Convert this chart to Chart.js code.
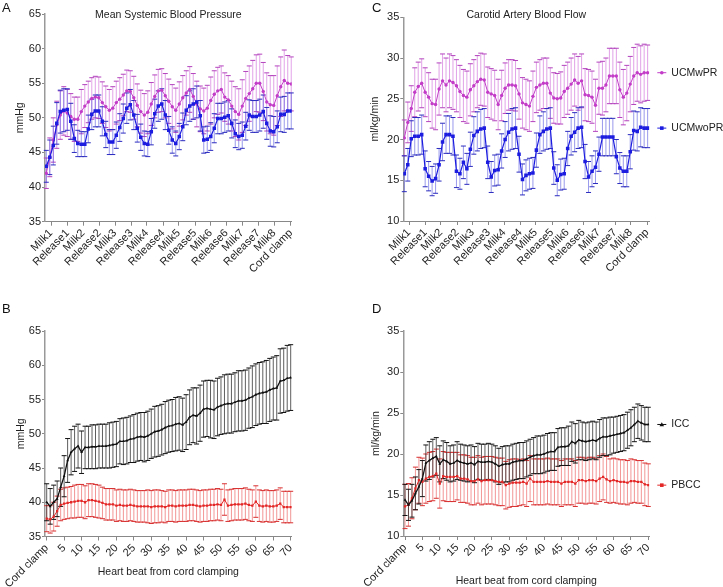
<!DOCTYPE html>
<html>
<head>
<meta charset="utf-8">
<script src="https://cdn.jsdelivr.net/npm/chart.js@4.4.1/dist/chart.umd.min.js"></script>
<style>
  body { margin: 0; background: #fff; }
  #wrap { position: relative; width: 723px; height: 587px; font-family: "Liberation Sans", Arial, sans-serif; }
  #wrap canvas { position: absolute; }
  .tag { position: absolute; font-size: 13px; line-height: 13px; color: #111; }
</style>
</head>
<body>
<div id="wrap">
  <canvas id="chartA" width="360" height="300" style="left:0;top:0"></canvas>
  <canvas id="chartC" width="363" height="300" style="left:360px;top:0"></canvas>
  <canvas id="chartB" width="360" height="287" style="left:0;top:300px"></canvas>
  <canvas id="chartD" width="363" height="287" style="left:360px;top:300px"></canvas>
  <div class="tag" style="left:2px;top:1px">A</div>
  <div class="tag" style="left:372px;top:1px">C</div>
  <div class="tag" style="left:2px;top:302px">B</div>
  <div class="tag" style="left:372px;top:302px">D</div>
</div>
<script>
// x positions: one sample per heart beat / recording step
var beatIndex = [0,1,2,3,4,5,6,7,8,9,10,11,12,13,14,15,16,17,18,19,20,21,22,23,24,25,26,27,28,29,30,
  31,32,33,34,35,36,37,38,39,40,41,42,43,44,45,46,47,48,49,50,51,52,53,54,55,56,57,58,59,60,
  61,62,63,64,65,66,67,68,69,70];

var phaseLabels = ["Milk1","Release1","Milk2","Release2","Milk3","Release3","Milk4","Release4",
  "Milk5","Release5","Milk6","Release6","Milk7","Release7","Milk8","Cord clamp"];
var phaseTickPos = [1.35,6.1,10.55,15.2,19.65,24.3,28.75,33.4,37.8,42.5,46.95,51.5,55.95,60.65,65.1,69.9];

var beatLabels = ["Cord clamp","5","10","15","20","25","30","35","40","45","50","55","60","65","70"];
var beatTickPos = [0,5,10,15,20,25,30,35,40,45,50,55,60,65,70];

// A: mean systemic blood pressure (mmHg)
var mbpUCMwPR = [42.0,44.3,46.8,49.0,50.4,51.0,50.7,50.2,49.8,49.8,
  50.9,51.7,52.3,52.8,53.0,52.9,52.2,51.6,51.1,51.4,
  52.2,52.7,53.3,53.9,53.8,52.9,51.8,50.9,50.4,50.8,
  52.0,53.1,53.9,54.0,53.2,52.4,51.6,51.1,52.0,52.9,
  53.6,54.1,53.1,52.0,51.3,51.0,51.4,52.5,53.4,53.9,
  54.1,53.0,52.6,51.7,50.9,50.5,51.7,52.8,53.5,54.2,
  55.0,55.0,53.8,52.3,51.9,51.8,53.2,54.5,55.4,55.0,54.9];
var mbpUCMwPRsd = [2.2,2.8,3.2,3.4,3.5,3.5,3.4,3.3,3.2,3.2,
  3.2,3.1,3.0,3.0,3.0,3.0,3.0,3.0,3.0,3.1,
  3.1,3.1,3.0,3.0,3.0,3.1,3.1,3.1,3.1,3.1,
  3.1,3.1,3.1,3.1,3.2,3.2,3.2,3.2,3.2,3.2,
  3.2,3.3,3.3,3.3,3.3,3.3,3.3,3.4,3.4,3.4,
  3.4,3.5,3.5,3.6,3.6,3.7,3.8,3.9,4.0,4.1,
  4.1,4.2,4.2,4.2,4.2,4.3,4.3,4.3,4.4,4.0,3.9];
var mbpUCMwoPR = [43.0,44.3,46.0,49.2,50.9,51.1,51.2,49.5,47.0,46.3,
  46.2,46.2,48.4,50.5,51.0,51.0,49.5,47.6,46.5,46.5,
  47.5,48.6,49.9,51.4,51.9,50.4,48.5,47.2,46.3,46.2,
  48.0,50.6,51.7,52.0,50.4,48.2,46.8,46.3,47.3,48.7,
  51.1,51.7,52.0,52.3,50.3,46.8,46.9,47.3,48.5,49.9,
  49.9,50.1,50.3,49.2,47.7,47.3,47.5,48.8,50.4,50.2,
  50.2,50.4,50.9,49.2,48.1,48.0,48.7,50.5,50.5,51.0,51.0];
var mbpUCMwoPRsd = [2.3,2.5,2.8,3.0,3.1,3.1,3.0,2.6,2.0,1.9,
  1.8,1.8,2.0,2.2,2.3,2.3,2.1,1.9,1.8,1.8,
  1.9,2.0,2.1,2.2,2.2,2.1,2.0,1.9,1.8,1.8,
  1.9,2.1,2.2,2.2,2.1,2.0,1.9,1.8,1.9,2.0,
  2.1,2.2,2.2,2.3,2.2,1.9,1.9,2.0,2.1,2.2,
  2.2,2.2,2.2,2.1,2.0,1.9,1.9,2.0,2.2,2.3,
  2.3,2.3,2.4,2.3,2.2,2.2,2.3,2.5,2.6,2.6,2.6];

// C: carotid artery blood flow (ml/kg/min)
var cbfUCMwPR = [20.2,22.1,23.8,25.8,26.5,26.9,25.8,25.2,24.4,24.3,
  26.2,27.2,26.7,27.2,27.0,26.6,25.9,25.4,25.2,26.1,
  26.6,27.1,27.4,27.3,25.8,25.6,25.4,24.3,25.4,26.3,
  26.7,26.7,26.6,25.6,24.5,24.3,24.1,25.3,26.4,26.7,
  26.9,26.9,25.7,25.1,25.0,25.1,25.9,26.3,26.8,27.3,
  26.9,27.2,25.5,25.4,25.2,24.2,26.3,26.3,26.7,27.8,
  27.8,27.8,26.1,25.2,25.7,26.8,27.8,28.2,28.0,28.2,28.2];
var cbfUCMwPRsd = [2.2,2.5,2.8,3.0,3.0,3.0,3.0,3.0,3.0,3.1,
  3.2,3.3,3.3,3.3,3.3,3.2,3.2,3.2,3.2,3.2,
  3.2,3.2,3.2,3.2,3.1,3.1,3.1,3.1,3.1,3.1,
  3.1,3.1,3.1,3.1,3.1,3.1,3.1,3.1,3.1,3.1,
  3.1,3.1,3.1,3.1,3.1,3.2,3.2,3.2,3.2,3.2,
  3.3,3.3,3.2,3.2,3.2,3.2,3.2,3.3,3.3,3.4,
  3.4,3.4,3.4,3.4,3.4,3.4,3.5,3.5,3.5,3.5,3.4];
var cbfUCMwoPR = [15.8,16.9,20.1,20.4,20.4,20.6,16.4,15.5,14.9,15.2,
  16.9,19.7,20.6,20.6,20.4,16.1,15.8,17.2,16.4,18.8,
  20.5,21.0,21.3,21.4,17.2,15.4,16.2,16.3,18.6,20.0,
  20.9,21.3,21.4,18.2,15.1,15.6,15.8,15.9,18.7,20.6,
  21.0,21.3,21.4,16.5,15.0,15.7,15.8,18.9,20.4,20.9,
  21.4,21.5,17.3,15.4,16.1,16.6,18.2,20.3,20.3,20.3,
  20.3,17.9,16.5,16.1,16.1,18.5,21.1,21.0,21.5,21.4,21.4];
var cbfUCMwoPRsd = [2.2,2.0,2.2,2.3,2.3,2.4,2.2,1.8,1.8,1.8,
  2.0,2.3,2.3,2.3,2.3,2.0,1.9,2.0,1.9,2.1,
  2.3,2.4,2.4,2.4,2.0,1.9,1.9,1.9,2.1,2.2,
  2.3,2.5,2.5,2.2,1.9,1.9,1.9,1.9,2.1,2.3,
  2.4,2.5,2.5,2.0,1.9,1.9,1.9,2.1,2.3,2.4,
  2.5,2.5,2.1,1.9,1.9,2.0,2.1,2.3,2.3,2.3,
  2.3,2.1,1.9,1.9,1.9,2.1,2.4,2.4,2.4,2.4,2.4];

// B: mean blood pressure after cord clamping (mmHg)
var mbpICC = [40.0,39.4,40.0,40.5,42.2,43.8,46.1,47.3,47.8,48.2,
  47.3,48.0,48.0,48.1,48.1,48.2,48.2,48.2,48.3,48.4,
  48.5,48.9,48.9,49.0,49.2,49.3,49.5,49.6,49.5,49.7,
  50.0,50.3,50.4,50.6,50.9,51.1,51.2,51.4,51.5,51.3,
  51.7,52.4,52.7,52.6,53.0,53.6,53.7,53.6,53.5,53.9,
  54.1,54.3,54.4,54.4,54.6,54.8,54.8,54.9,55.2,55.4,
  55.7,55.9,56.0,56.1,56.4,56.6,56.7,57.7,57.8,58.1,58.2];
var mbpICCsd = [2.7,2.6,2.5,2.6,2.8,3.0,3.2,3.3,3.3,3.2,
  3.1,3.1,3.1,3.2,3.2,3.2,3.2,3.2,3.3,3.3,
  3.3,3.3,3.4,3.4,3.4,3.5,3.5,3.5,3.6,3.6,
  3.6,3.7,3.7,3.7,3.8,3.8,3.8,3.9,3.9,3.9,
  4.0,4.0,4.0,4.1,4.1,4.1,4.1,4.2,4.2,4.2,
  4.2,4.3,4.3,4.3,4.3,4.4,4.4,4.4,4.4,4.5,
  4.5,4.5,4.5,4.6,4.6,4.6,4.7,4.7,4.7,4.8,4.8];
var mbpPBCC = [37.6,37.5,37.9,38.7,39.6,39.8,39.9,40.0,40.1,40.2,
  40.2,40.0,40.3,40.3,40.2,40.1,39.9,39.7,39.7,39.7,
  39.5,39.6,39.5,39.5,39.6,39.5,39.4,39.4,39.4,39.4,
  39.3,39.4,39.4,39.4,39.3,39.5,39.5,39.4,39.5,39.5,
  39.5,39.6,39.6,39.5,39.4,39.5,39.5,39.6,39.6,39.7,
  39.6,40.4,39.5,39.6,39.7,39.7,39.7,39.8,39.6,39.5,
  40.1,39.5,39.4,39.5,39.4,39.4,39.5,39.8,39.3,39.3,39.3];
var mbpPBCCsd = [1.9,2.0,2.1,2.2,2.3,2.3,2.3,2.3,2.4,2.4,
  2.4,2.4,2.4,2.4,2.4,2.4,2.3,2.3,2.3,2.3,
  2.3,2.3,2.3,2.3,2.3,2.3,2.3,2.3,2.3,2.4,
  2.4,2.4,2.4,2.3,2.3,2.3,2.3,2.3,2.3,2.3,
  2.3,2.3,2.3,2.3,2.3,2.3,2.3,2.3,2.3,2.3,
  2.3,2.3,2.3,2.3,2.3,2.3,2.3,2.3,2.3,2.3,
  2.3,2.3,2.3,2.3,2.3,2.3,2.3,2.3,2.3,2.3,2.3];

// D: carotid blood flow after cord clamping (ml/kg/min)
var cbfICC = [14.4,13.8,14.3,15.2,16.0,17.0,18.9,19.2,19.5,19.7,
  18.8,19.3,19.1,18.8,18.9,19.2,19.0,18.9,18.8,18.9,
  18.7,19.1,19.0,19.0,19.1,19.0,18.8,18.5,18.7,18.8,
  18.8,19.0,19.1,19.2,19.2,19.4,19.6,19.8,19.9,19.9,
  20.0,20.2,20.3,20.3,20.8,20.9,20.9,21.0,21.5,21.3,
  21.7,21.6,21.5,21.6,21.7,21.6,21.9,22.1,22.1,22.2,
  22.3,22.4,22.5,22.6,22.9,23.2,23.6,24.0,23.8,23.6,23.6];
var cbfICCsd = [1.9,1.9,2.0,2.0,2.1,2.2,2.2,2.3,2.3,2.3,
  2.2,2.3,2.3,2.2,2.2,2.3,2.2,2.2,2.2,2.2,
  2.2,2.2,2.2,2.2,2.2,2.2,2.2,2.2,2.2,2.2,
  2.2,2.2,2.2,2.2,2.2,2.2,2.2,2.2,2.3,2.3,
  2.3,2.3,2.3,2.3,2.3,2.3,2.3,2.4,2.4,2.4,
  2.4,2.3,2.3,2.3,2.3,2.3,2.3,2.3,2.3,2.3,
  2.2,2.2,2.2,2.2,2.2,2.2,2.1,2.1,2.1,2.1,2.1];
var cbfPBCC = [13.6,13.8,14.6,15.8,16.8,16.6,17.0,17.2,17.3,17.6,
  16.4,17.3,17.2,17.2,17.2,17.3,17.0,17.0,16.9,16.7,
  16.7,16.9,16.7,16.8,16.8,16.8,16.7,16.6,16.6,16.2,
  16.4,16.5,16.5,16.5,16.6,16.4,17.0,16.6,16.6,16.6,
  16.6,16.7,16.6,16.6,16.6,16.4,16.6,16.6,16.6,16.4,
  16.8,16.8,16.7,16.8,16.8,16.7,17.0,17.2,16.9,16.7,
  16.8,16.7,16.6,16.6,16.5,16.7,16.7,16.6,16.6,16.3,16.2];
var cbfPBCCsd = [2.7,2.6,2.5,2.6,2.8,2.9,3.0,3.0,3.0,3.0,
  3.0,3.0,3.0,3.0,3.0,2.9,2.9,2.9,2.9,2.9,
  2.9,2.9,2.9,2.9,2.9,2.9,2.9,2.9,2.9,2.9,
  2.9,2.9,2.9,2.8,2.8,2.8,2.8,2.8,2.8,2.8,
  2.8,2.8,2.8,2.8,2.8,2.8,2.8,2.8,2.8,2.8,
  2.8,2.8,2.8,2.8,2.8,2.8,2.8,2.8,2.8,2.7,
  2.7,2.7,2.7,2.7,2.7,2.7,2.6,2.6,2.6,2.6,2.6];

var FONT = '"Liberation Sans", Arial, sans-serif';
Chart.defaults.font.family = FONT;
Chart.defaults.color = '#222';

// vertical SD bars with caps, drawn under the lines
var errorBars = {
  id: 'errorBars',
  beforeDatasetsDraw: function(chart) {
    var ctx = chart.ctx, ys = chart.scales.y;
    for (var d = chart.data.datasets.length - 1; d >= 0; d--) {
      var ds = chart.data.datasets[d];
      var meta = chart.getDatasetMeta(d);
      ctx.save();
      ctx.lineWidth = 1;
      meta.data.forEach(function(pt, i) {
        var hi = ys.getPixelForValue(ds.data[i] + ds.sd[i]);
        var lo = ys.getPixelForValue(ds.data[i] - ds.sd[i]);
        ctx.strokeStyle = ds.sdColor;
        ctx.beginPath(); ctx.moveTo(pt.x, hi); ctx.lineTo(pt.x, lo); ctx.stroke();
        ctx.strokeStyle = ds.capColor;
        ctx.beginPath();
        ctx.moveTo(pt.x - 2.5, hi); ctx.lineTo(pt.x + 2.5, hi);
        ctx.moveTo(pt.x - 2.5, lo); ctx.lineTo(pt.x + 2.5, lo);
        ctx.stroke();
      });
      ctx.restore();
    }
  }
};

// title text sitting inside the top of the plot
var panelTitle = {
  id: 'panelTitle',
  afterDraw: function(chart, args, opts) {
    if (!opts.text) return;
    var ctx = chart.ctx, a = chart.chartArea;
    ctx.save();
    ctx.font = '10.5px ' + FONT;
    ctx.fillStyle = '#222';
    ctx.textAlign = 'center';
    ctx.textBaseline = 'middle';
    ctx.fillText(opts.text, (a.left + a.right) / 2, opts.y);
    ctx.restore();
  }
};

// legend entries placed next to each series' last point
var endLabels = {
  id: 'endLabels',
  afterDatasetsDraw: function(chart, args, opts) {
    if (!opts.show) return;
    var ctx = chart.ctx, a = chart.chartArea;
    chart.data.datasets.forEach(function(ds, d) {
      var meta = chart.getDatasetMeta(d);
      var y = meta.data[meta.data.length - 1].y;
      var x0 = a.right + 8;
      ctx.save();
      ctx.strokeStyle = ds.borderColor;
      ctx.lineWidth = 1;
      ctx.beginPath(); ctx.moveTo(x0, y); ctx.lineTo(x0 + 9, y); ctx.stroke();
      ctx.fillStyle = ds.borderColor;
      if (ds.pointStyle === 'rect') ctx.fillRect(x0 + 2.7, y - 1.8, 3.6, 3.6);
      else if (ds.pointStyle === 'triangle') {
        ctx.beginPath(); ctx.moveTo(x0 + 4.5, y - 2.2); ctx.lineTo(x0 + 6.8, y + 1.8); ctx.lineTo(x0 + 2.2, y + 1.8); ctx.fill();
      } else { ctx.beginPath(); ctx.arc(x0 + 4.5, y, 1.8, 0, Math.PI * 2); ctx.fill(); }
      ctx.font = '10.5px ' + FONT;
      ctx.fillStyle = '#222';
      ctx.textBaseline = 'middle';
      ctx.fillText(ds.label, x0 + 14, y);
      ctx.restore();
    });
  }
};

function series(label, values, sd, color, sdColor, capColor, style, radius, width) {
  return {
    label: label, data: values, sd: sd, sdColor: sdColor, capColor: capColor,
    borderColor: color, backgroundColor: color, borderWidth: width,
    pointStyle: style, pointRadius: radius, pointBorderWidth: 0,
    pointBackgroundColor: color, tension: 0
  };
}

function makePanel(id, o) {
  return new Chart(document.getElementById(id), {
    type: 'line',
    data: { labels: beatIndex, datasets: o.datasets },
    options: {
      responsive: false,
      animation: false,
      devicePixelRatio: 1,
      layout: { padding: { top: o.top, right: o.right, left: 0, bottom: 0 } },
      plugins: {
        legend: { display: false },
        tooltip: { enabled: false },
        panelTitle: { text: o.title, y: 15 },
        endLabels: { show: o.legend }
      },
      scales: {
        x: {
          type: 'linear', bounds: 'data', min: o.xMin, max: o.xMax,
          afterBuildTicks: function(s) { s.ticks = o.tickPos.map(function(v) { return { value: v }; }); },
          afterFit: function(s) { s.height = o.xHeight; },
          ticks: {
            autoSkip: false, minRotation: 45, maxRotation: 45, padding: 1,
            font: { size: 11 }, color: '#222',
            callback: function(v, i) { return o.tickLabels[i]; }
          },
          grid: { drawOnChartArea: false, drawTicks: true, tickLength: 4, color: '#888' },
          border: { color: '#888', width: 1 },
          title: {
            display: !!o.xTitle, text: o.xTitle, color: '#222',
            font: { size: 10.5 }, padding: { top: 0, bottom: o.xTitlePad }
          }
        },
        y: {
          min: o.yMin, max: o.yMax,
          afterFit: function(s) { s.width = o.yWidth; },
          ticks: { stepSize: 5, padding: 1, font: { size: 11 }, color: '#222' },
          grid: { drawOnChartArea: false, drawTicks: true, tickLength: 3, color: '#888' },
          border: { color: '#999', width: 1.5 },
          title: {
            display: true, text: o.yTitle, color: '#222',
            font: { size: 10.5 }, padding: { top: o.yTitlePad, bottom: 0 }
          }
        }
      }
    },
    plugins: [errorBars, panelTitle, endLabels]
  });
}

var PURPLE = '#c23cc8', BLUE = '#1c1ce0', BLACK = '#111111', RED = '#e32626';

makePanel('chartA', {
  title: 'Mean Systemic Blood Pressure', legend: false,
  top: 14, right: 68.3, xHeight: 78.3, yWidth: 45, xMin: -0.37, xMax: 70.13,
  yMin: 35, yMax: 65, yTitle: 'mmHg', yTitlePad: 13.7,
  tickPos: phaseTickPos, tickLabels: phaseLabels,
  datasets: [
    series('UCMwoPR', mbpUCMwoPR, mbpUCMwoPRsd, BLUE, 'rgba(70,70,220,0.55)', '#2b2bbf', 'rect', 2.5, 1.2),
    series('UCMwPR', mbpUCMwPR, mbpUCMwPRsd, PURPLE, 'rgba(205,100,215,0.6)', '#b343bd', 'circle', 1.7, 1)
  ]
});

makePanel('chartC', {
  title: 'Carotid Artery Blood Flow', legend: true,
  top: 17.3, right: 73.7, xHeight: 79, yWidth: 43.3, xMin: -0.29, xMax: 70.48,
  yMin: 10, yMax: 35, yTitle: 'ml/kg/min', yTitlePad: 8.7,
  tickPos: phaseTickPos, tickLabels: phaseLabels,
  datasets: [
    series('UCMwoPR', cbfUCMwoPR, cbfUCMwoPRsd, BLUE, 'rgba(70,70,220,0.55)', '#2b2bbf', 'rect', 2.5, 1.2),
    series('UCMwPR', cbfUCMwPR, cbfUCMwPRsd, PURPLE, 'rgba(205,100,215,0.6)', '#b343bd', 'circle', 1.7, 1)
  ]
});

makePanel('chartB', {
  title: '', legend: false,
  top: 31, right: 68.3, xHeight: 50.5, yWidth: 45, xMin: -0.49, xMax: 70.29,
  yMin: 35, yMax: 65, yTitle: 'mmHg', yTitlePad: 14.5,
  tickPos: beatTickPos, tickLabels: beatLabels,
  xTitle: 'Heart beat from cord clamping', xTitlePad: 9,
  datasets: [
    series('ICC', mbpICC, mbpICCsd, BLACK, 'rgba(40,40,40,0.75)', '#111', 'triangle', 1.6, 1.3),
    series('PBCC', mbpPBCC, mbpPBCCsd, RED, 'rgba(235,80,80,0.6)', '#d83030', 'rect', 1.6, 1)
  ]
});

makePanel('chartD', {
  title: '', legend: true,
  top: 31, right: 73.7, xHeight: 51, yWidth: 43.3, xMin: -0.49, xMax: 70.29,
  yMin: 10, yMax: 35, yTitle: 'ml/kg/min', yTitlePad: 9.5,
  tickPos: beatTickPos, tickLabels: beatLabels,
  xTitle: 'Heart beat from cord clamping', xTitlePad: 0,
  datasets: [
    series('ICC', cbfICC, cbfICCsd, BLACK, 'rgba(40,40,40,0.75)', '#111', 'triangle', 1.6, 1.3),
    series('PBCC', cbfPBCC, cbfPBCCsd, RED, 'rgba(235,80,80,0.6)', '#d83030', 'rect', 1.6, 1)
  ]
});
</script>
</body>
</html>
